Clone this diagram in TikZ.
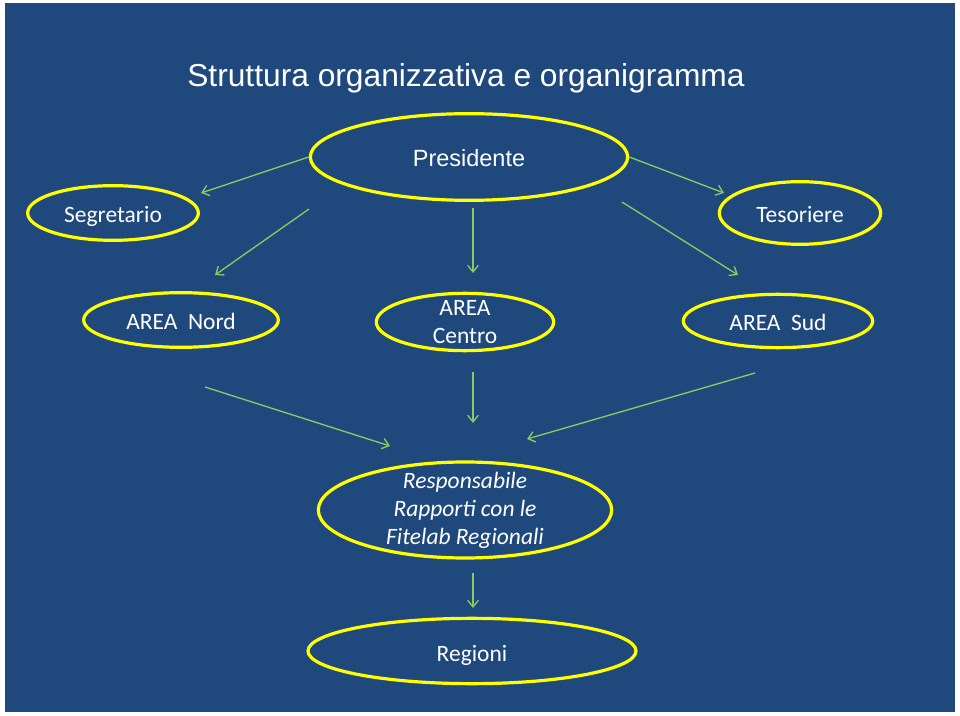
\documentclass[tikz,border=0pt]{standalone}
\usepackage{fontspec}
\setmainfont{Carlito}
\newfontfamily\arialfont{Liberation Sans}
\usetikzlibrary{shapes.geometric,arrows.meta}
\definecolor{slideblue}{RGB}{31,73,125}
\definecolor{ringyellow}{RGB}{255,255,0}
\definecolor{linkgreen}{RGB}{140,200,100}
\tikzset{
  role/.style={ellipse, draw=ringyellow, line width=2.4pt, text=white, inner sep=0pt, align=center, font=\fontsize{17.6}{21}\selectfont},
  oneline/.style={text height=15pt, text depth=0pt},
  link/.style={draw=linkgreen, line width=1pt, -{Straight Barb[length=5pt,width=8pt]}}
}
\begin{document}
\begin{tikzpicture}[x=0.75pt,y=-0.75pt]
    \useasboundingbox (0,0) rectangle (960,716);
    \fill [white] (0,0) rectangle (960,716);
    \fill [slideblue] (5,3) rectangle (955,712);
    \node [text=white, anchor=base west, inner sep=0pt, font=\arialfont\fontsize{23.8}{28}\selectfont] (title) at (187,87) {Struttura organizzativa e organigramma};
    \node [role, oneline, minimum width=238pt, minimum height=65pt, font=\arialfont\fontsize{17.6}{21}\selectfont] (pres) at (469,157) {Presidente};
    \node [role, oneline, minimum width=128pt, minimum height=41pt] (seg) at (113,213) {Segretario};
    \node [role, oneline, minimum width=121pt, minimum height=47pt] (tes) at (800,213) {Tesoriere};
    \node [role, oneline, minimum width=146pt, minimum height=41pt] (nord) at (181,320) {AREA\ \ Nord};
    \node [role, inner ysep=-2pt, minimum width=133pt, minimum height=43pt] (centro) at (465,322) {AREA\\Centro};
    \node [role, oneline, minimum width=142pt, minimum height=40pt] (sud) at (778,321) {AREA\ \ Sud};
    \node [role, inner ysep=-5pt, minimum width=220pt, minimum height=72pt, font=\itshape\fontsize{17.6}{21}\selectfont] (resp) at (465,510) {Responsabile\\Rapporti con le\\Fitelab Regionali};
    \node [role, oneline, minimum width=246pt, minimum height=49pt] (reg) at (472,651) {Regioni};
    \coordinate (segin) at (201,193);
    \coordinate (nordout) at (309,209);
    \coordinate (nordin) at (215,275);
    \coordinate (centroout) at (473,208);
    \coordinate (centroin) at (473,273);
    \coordinate (tesin) at (724,193);
    \coordinate (sudout) at (622,202);
    \coordinate (sudin) at (738,275);
    \coordinate (nordresp) at (205,387);
    \coordinate (respinl) at (390,446);
    \coordinate (centroresp) at (473,372);
    \coordinate (respinc) at (473,423);
    \coordinate (sudresp) at (755,373);
    \coordinate (respinr) at (527,439);
    \coordinate (respreg) at (473,573);
    \coordinate (regin) at (473,608);
    \draw [link] (pres.west) -- (segin);
    \draw [link] (nordout) -- (nordin);
    \draw [link] (centroout) -- (centroin);
    \draw [link] (pres.east) -- (tesin);
    \draw [link] (sudout) -- (sudin);
    \draw [link] (nordresp) -- (respinl);
    \draw [link] (centroresp) -- (respinc);
    \draw [link] (sudresp) -- (respinr);
    \draw [link] (respreg) -- (regin);
\end{tikzpicture}
\end{document}
